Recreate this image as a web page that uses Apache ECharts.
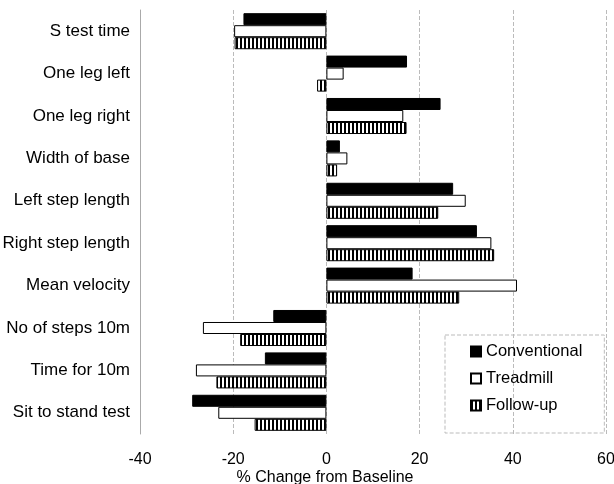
<!DOCTYPE html>
<html>
<head>
<meta charset="utf-8">
<script src="https://cdn.jsdelivr.net/npm/echarts@6/dist/echarts.min.js"></script>
<style>html,body{margin:0;padding:0;background:#fff}#c{width:614px;height:484px}</style>
</head>
<body>
<div id="c"></div>
<script>
var categories = ["S test time","One leg left","One leg right","Width of base","Left step length","Right step length","Mean velocity","No of steps 10m","Time for 10m","Sit to stand test"];
var conventional = [-17.8, 17.3, 24.5, 2.9, 27.2, 32.3, 18.5, -11.4, -13.2, -28.8];
var treadmill = [-19.8, 3.7, 16.5, 4.5, 29.9, 35.4, 40.9, -26.5, -28.0, -23.2];
var followup = [-19.7, -2.0, 17.2, 2.3, 24.0, 36.0, 28.5, -18.5, -23.6, -15.4];
var xTicks = [-40, -20, 0, 20, 40, 60];

var cv = document.createElement('canvas');
cv.width = 4; cv.height = 4;
var ctx = cv.getContext('2d');
ctx.fillStyle = '#fff'; ctx.fillRect(0,0,4,4);
ctx.fillStyle = '#000'; ctx.fillRect(0,0,2,4);
var stripes = {image: cv, repeat: 'repeat'};

var chart = echarts.init(document.getElementById('c'));
var font = 'Liberation Sans, Arial, sans-serif';
chart.setOption({
  animation: false,
  textStyle: {fontFamily: font},
  grid: {left: 140, right: 8, top: 10, bottom: 50, containLabel: false, outerBoundsMode: 'none'},
  legend: {
    orient: 'vertical', left: 445, top: 335,
    icon: 'rect',
    itemWidth: 10, itemHeight: 10, itemGap: 10,
    textStyle: {fontSize: 16.5, lineHeight: 17, color: '#000', fontFamily: font},
    data: ['Conventional','Treadmill','Follow-up'],
    padding: [8, 22, 19, 25],
    borderColor: '#bbb', borderWidth: 1, borderType: 'dashed'
  },
  xAxis: {
    type: 'value', min: -40, max: 60, interval: 20,
    name: '% Change from Baseline', nameLocation: 'middle', nameGap: 36, nameMoveOverlap: false,
    nameTextStyle: {fontSize: 16, color: '#000', padding: [0, 96, 0, 0]},
    axisLabel: {fontSize: 16, color: '#000', margin: 18,
      formatter: function(v){ return xTicks.indexOf(v) >= 0 ? String(v) : ''; }},
    axisLine: {show: false}, axisTick: {show: false},
    splitLine: {show: true, lineStyle: {color: '#bbb', type: 'dashed', width: 1}}
  },
  yAxis: {
    type: 'category', data: categories, inverse: true,
    axisLine: {onZero: false, lineStyle: {color: '#aaa'}},
    axisTick: {show: false},
    axisLabel: {fontSize: 17, color: '#000', margin: 10}
  },
  series: [
    {name: 'Conventional', type: 'bar', data: conventional, barGap: '0%', barCategoryGap: '15%',
     itemStyle: {color: '#000', borderColor: '#000', borderWidth: 1}},
    {name: 'Treadmill', type: 'bar', data: treadmill,
     itemStyle: {color: '#fff', borderColor: '#000', borderWidth: 1}},
    {name: 'Follow-up', type: 'bar', data: followup,
     itemStyle: {color: stripes, borderColor: '#000', borderWidth: 1}}
  ]
});
</script>
</body>
</html>
